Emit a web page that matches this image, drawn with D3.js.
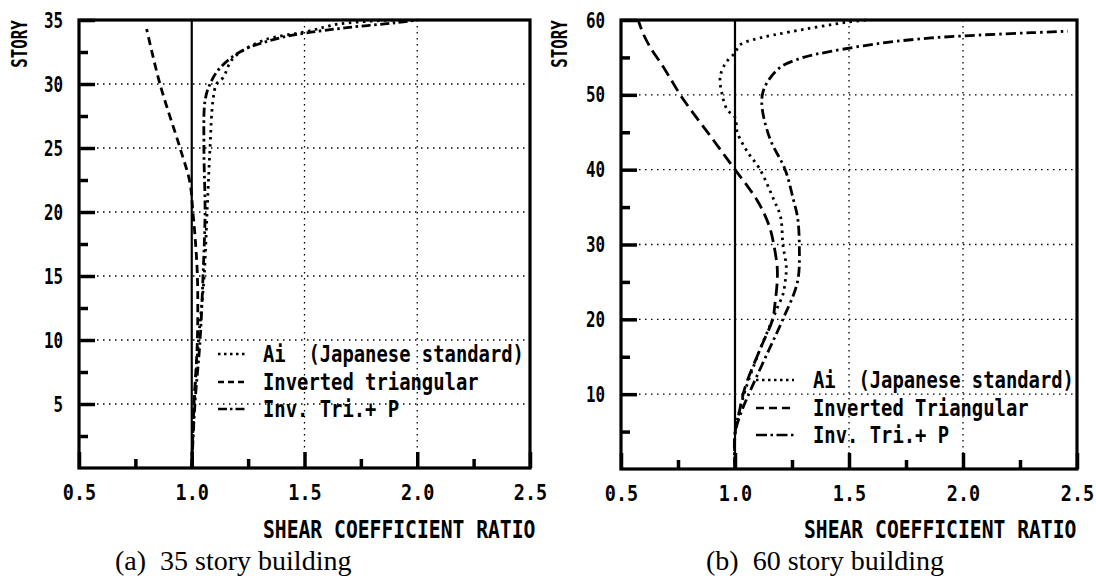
<!DOCTYPE html>
<html>
<head>
<meta charset="utf-8">
<script src="https://cdn.jsdelivr.net/npm/d3@7"></script>
<style>
  body { margin: 0; background: #fff; }
  svg { display: block; }
</style>
</head>
<body>
<svg id="chart" width="1096" height="581"></svg>
<script>
// ---- data ----
// (a) 35 story building
const story35Ai = [0, 3, 5, 10, 15, 20, 25, 28.7, 30, 30.5, 32, 33.4, 34.1, 34.7, 35];
const ratio35Ai = [1.0, 1.005, 1.01, 1.03, 1.055, 1.068, 1.081, 1.094, 1.11, 1.139, 1.183, 1.316, 1.511, 1.657, 1.9];
const story35Inv = [0, 5, 10, 15, 18, 20, 22.3, 25, 30, 34.3];
const ratio35Inv = [1.0, 1.01, 1.025, 1.025, 1.015, 1.005, 0.992, 0.948, 0.859, 0.80];
const story35InvP = [0, 5, 10, 15, 20, 25, 28.7, 30, 31.25, 32.6, 33.6, 34.0, 34.4, 34.8, 35];
const ratio35InvP = [1.0, 1.014, 1.037, 1.05, 1.059, 1.054, 1.059, 1.081, 1.125, 1.223, 1.391, 1.511, 1.688, 1.91, 2.0];

// (b) 60 story building
const story60Ai = [0, 4.7, 7.8, 11, 16, 20, 21.5, 23.3, 25, 27, 30, 33.7, 36, 40, 42.6, 45, 47, 48, 50, 52.4, 54.3, 55.6, 56.7, 57.6, 58.4, 59.7, 60];
const ratio60Ai = [1.0, 1.0, 1.02, 1.05, 1.11, 1.165, 1.185, 1.21, 1.22, 1.225, 1.21, 1.2, 1.17, 1.11, 1.05, 1.01, 1.0, 0.966, 0.944, 0.935, 0.96, 1.0, 1.023, 1.11, 1.24, 1.49, 1.58];
const story60Inv = [0, 4.7, 7.8, 11, 16, 20, 22, 25, 27, 30, 32, 34, 36, 38, 40, 42, 44, 46, 48, 50, 52, 54, 56, 58, 60];
const ratio60Inv = [1.0, 1.0, 1.02, 1.045, 1.11, 1.165, 1.175, 1.185, 1.185, 1.17, 1.155, 1.13, 1.095, 1.05, 1.0, 0.952, 0.904, 0.855, 0.806, 0.76, 0.72, 0.68, 0.635, 0.6, 0.575];
const story60InvP = [0, 4.7, 7.8, 11, 16, 20, 25, 30, 33.7, 36, 40, 44, 48, 50, 51.6, 53.7, 55.0, 55.8, 56.9, 57.6, 58.0, 58.3, 58.5];
const ratio60InvP = [1.0, 1.0, 1.03, 1.075, 1.15, 1.21, 1.274, 1.282, 1.274, 1.256, 1.22, 1.155, 1.12, 1.12, 1.14, 1.2, 1.3, 1.42, 1.64, 1.86, 2.08, 2.3, 2.46];

// axes
const ratioDomain = [0.5, 2.5];
const xTicksMajor = [0.5, 1.0, 1.5, 2.0, 2.5];
const xTicksMinor = [0.75, 1.25, 1.75, 2.25];
const xGrid = [1.5, 2.0];
const yTicks35 = [5, 10, 15, 20, 25, 30, 35];
const yMinor35 = [2.5, 7.5, 12.5, 17.5, 22.5, 27.5, 32.5];
const yGrid35 = [5, 10, 15, 20, 25, 30];
const yTicks60 = [10, 20, 30, 40, 50, 60];
const yMinor60 = [5, 15, 25, 35, 45, 55];
const yGrid60 = [10, 20, 30, 40, 50];

// texts
const legend35 = ['Ai\u00a0\u00a0(Japanese standard)', 'Inverted triangular', 'Inv.\u00a0Tri.+\u00a0P'];
const legend60 = ['Ai\u00a0\u00a0(Japanese standard)', 'Inverted Triangular', 'Inv.\u00a0Tri.+\u00a0P'];
const yTitle = 'STORY';
const xTitle = 'SHEAR COEFFICIENT RATIO';
const caption35 = '(a)\u00a0\u00a035 story building';
const caption60 = '(b)\u00a0\u00a060 story building';

const MONO = '"DejaVu Sans Mono", monospace';
const SERIF = '"Liberation Serif", "Times New Roman", serif';

const svg = d3.select('#chart');

const panels = [
  {
    left: 79, right: 530, top: 20, bottom: 468, yMax: 35,
    yTicks: yTicks35, yMinor: yMinor35, yGrid: yGrid35,
    series: [
      { story: story35Ai, ratio: ratio35Ai, dash: '2.5,4.5' },
      { story: story35Inv, ratio: ratio35Inv, dash: '8,5' },
      { story: story35InvP, ratio: ratio35InvP, dash: '9,3.5,2.5,3.5' }
    ],
    legend: { labels: legend35, x1: 218, x2: 247, textX: 263, baseY: [362, 390, 417],
              dashes: ['2.5,3.5', '6,4', '9,3,2.5,3'] },
    storyX: 27, titleX: 263, caption: caption35, captionX: 115
  },
  {
    left: 621, right: 1077, top: 20, bottom: 469, yMax: 60,
    yTicks: yTicks60, yMinor: yMinor60, yGrid: yGrid60,
    series: [
      { story: story60Ai, ratio: ratio60Ai, dash: '2.5,4.5' },
      { story: story60Inv, ratio: ratio60Inv, dash: '12,6' },
      { story: story60InvP, ratio: ratio60InvP, dash: '10,4,2.5,4' }
    ],
    legend: { labels: legend60, x1: 756, x2: 794, textX: 813, baseY: [388, 416, 443],
              dashes: ['2.5,3.5', '8,5', '11,3.5,2.5,3.5'] },
    storyX: 567, titleX: 804, caption: caption60, captionX: 706
  }
];

panels.forEach(drawPanel);

// narrow bold plotter-like text
function monoText(parent, x, y, str, size, sx, anchor, rotate) {
  return parent.append('text')
    .attr('transform', `translate(${x},${y})${rotate ? ` rotate(${rotate})` : ''} scale(${sx},1)`)
    .attr('text-anchor', anchor || 'start')
    .attr('font-family', MONO)
    .attr('font-weight', 'bold')
    .attr('font-size', size)
    .attr('fill', '#000')
    .text(str);
}

function drawPanel(p) {
  const x = d3.scaleLinear().domain(ratioDomain).range([p.left, p.right]);
  const y = d3.scaleLinear().domain([0, p.yMax]).range([p.bottom, p.top]);
  const g = svg.append('g');

  // dotted grid
  const grid = g.append('g').attr('stroke', '#000').attr('stroke-width', 1.3).attr('stroke-dasharray', '1.5,4.5');
  grid.selectAll('.gy').data(p.yGrid).join('line').attr('class', 'gy')
    .attr('x1', p.left).attr('x2', p.right)
    .attr('y1', d => y(d)).attr('y2', d => y(d));
  grid.selectAll('.gx').data(xGrid).join('line').attr('class', 'gx')
    .attr('x1', d => x(d)).attr('x2', d => x(d))
    .attr('y1', p.top).attr('y2', p.bottom);

  // solid reference at ratio 1.0
  g.append('line')
    .attr('x1', x(1)).attr('x2', x(1))
    .attr('y1', p.top).attr('y2', p.bottom)
    .attr('stroke', '#000').attr('stroke-width', 2.2);

  // curves
  const line = d3.line().curve(d3.curveCatmullRom.alpha(0.5));
  p.series.forEach(s => {
    g.append('path')
      .attr('d', line(s.story.map((st, i) => [x(s.ratio[i]), y(st)])))
      .attr('fill', 'none')
      .attr('stroke', '#000')
      .attr('stroke-width', 2.8)
      .attr('stroke-dasharray', s.dash);
  });

  // frame
  g.append('rect')
    .attr('x', p.left).attr('y', p.top)
    .attr('width', p.right - p.left).attr('height', p.bottom - p.top)
    .attr('fill', 'none').attr('stroke', '#000').attr('stroke-width', 3.2);

  // bottom axis: labelled majors + minor ticks, drawn inward
  const xAxis = g.append('g')
    .attr('transform', `translate(0,${p.bottom})`)
    .call(d3.axisBottom(x).tickValues(xTicksMajor).tickSize(-16).tickPadding(16).tickFormat(d3.format('.1f')));
  const xMinor = g.append('g')
    .attr('transform', `translate(0,${p.bottom})`)
    .call(d3.axisBottom(x).tickValues(xTicksMinor).tickSize(-9).tickFormat(''));

  // left axis
  const yAxis = g.append('g')
    .attr('transform', `translate(${p.left},0)`)
    .call(d3.axisLeft(y).tickValues(p.yTicks).tickSize(-16).tickPadding(16));
  const yMinor = g.append('g')
    .attr('transform', `translate(${p.left},0)`)
    .call(d3.axisLeft(y).tickValues(p.yMinor).tickSize(-9).tickFormat(''));

  [xAxis, xMinor, yAxis, yMinor].forEach(a => {
    a.select('.domain').remove();
    a.attr('font-family', MONO).attr('font-size', 22).attr('font-weight', 'bold');
    a.selectAll('.tick line').attr('stroke', '#000').attr('stroke-width', 3.5);
  });
  xAxis.selectAll('.tick text').attr('fill', '#000').attr('transform', 'scale(0.84,1)');
  const syY = 0.72;
  yAxis.selectAll('.tick text').attr('fill', '#000')
    .attr('transform', `scale(${syY},1)`)
    .attr('x', -16 / syY);

  // axis titles
  monoText(g, p.storyX, 44, yTitle, 20.5, 0.77, 'middle', -90);
  monoText(g, p.titleX, 538, xTitle, 24, 0.82, 'start');

  // legend
  const lg = p.legend;
  lg.labels.forEach((lab, i) => {
    g.append('line')
      .attr('x1', lg.x1).attr('x2', lg.x2)
      .attr('y1', lg.baseY[i] - 8).attr('y2', lg.baseY[i] - 8)
      .attr('stroke', '#000').attr('stroke-width', 2.6)
      .attr('stroke-dasharray', lg.dashes[i]);
    monoText(g, lg.textX, lg.baseY[i], lab, 23, 0.82, 'start');
  });

  // caption
  g.append('text')
    .attr('x', p.captionX).attr('y', 570)
    .attr('font-family', SERIF)
    .attr('font-size', 28)
    .attr('fill', '#000')
    .text(p.caption);
}
</script>
</body>
</html>
